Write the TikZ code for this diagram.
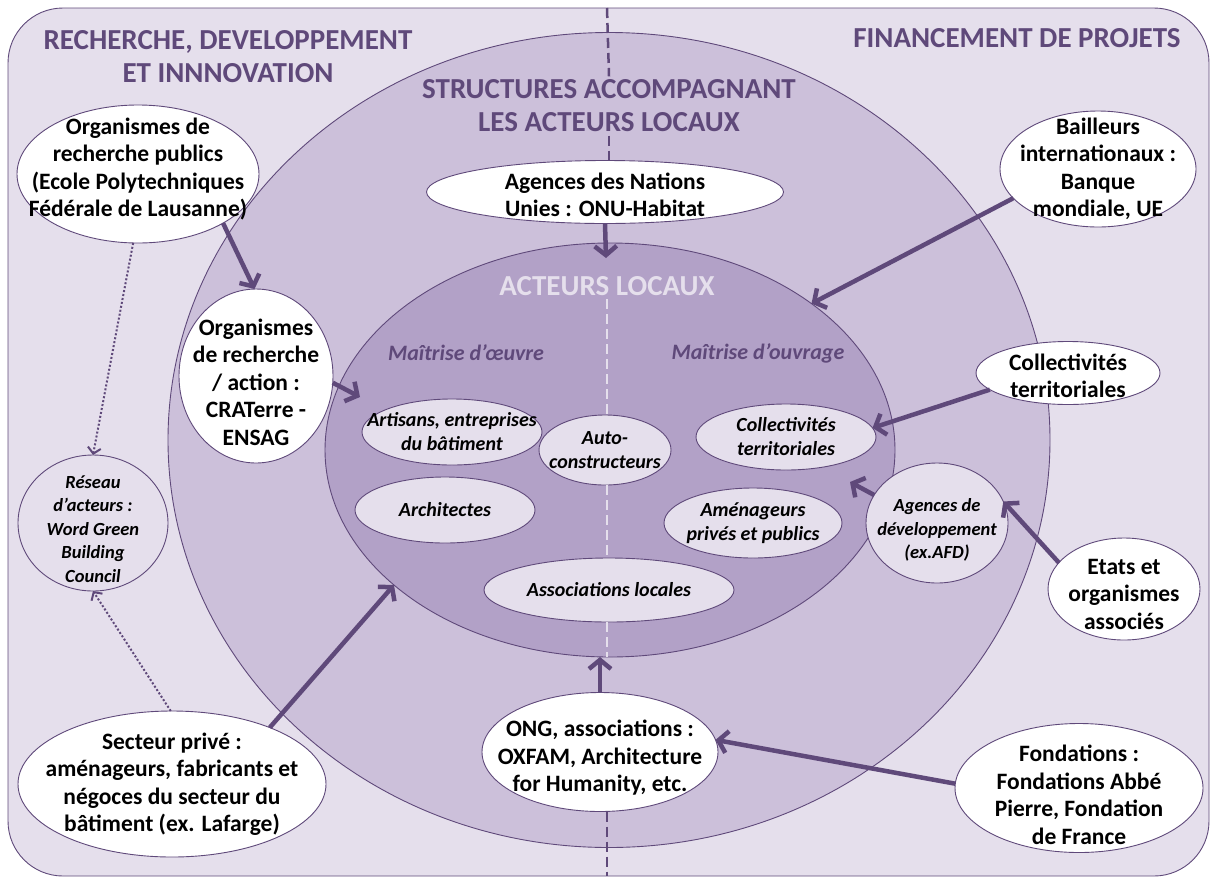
\documentclass[tikz,border=0pt]{standalone}
\usepackage{fontspec}
\setmainfont{Carlito}
\usepackage{tikz}
\usetikzlibrary{shapes.geometric}
\usetikzlibrary{arrows.meta}
\definecolor{pdark}{HTML}{5F497A}
\definecolor{plight}{HTML}{E5DFEC}
\definecolor{pmid}{HTML}{CCC0DA}
\definecolor{pdeep}{HTML}{B2A1C7}
\tikzstyle{bubble}=[ellipse, draw=pdark, line width=0.9pt, inner sep=0, outer sep=0]
\tikzstyle{partner}=[bubble, fill=white]
\tikzstyle{actor}=[bubble, fill=plight]
\tikzstyle{heading}=[align=center, text=pdark, font=\fontsize{29}{33}\selectfont\bfseries]
\tikzstyle{role}=[text=pdark, font=\fontsize{22}{26}\selectfont\bfseries\itshape]
\tikzstyle{bigtext}=[align=center, font=\fontsize{23.5}{27.5}\selectfont\bfseries]
\tikzstyle{smalltext}=[align=center, font=\fontsize{20}{24}\selectfont\bfseries\itshape]
\tikzstyle{netext}=[align=center, font=\fontsize{18.5}{23.5}\selectfont\bfseries\itshape]
\tikzstyle{link}=[draw=pdark, line width=4.5pt, -{Straight Barb[length=9pt, width=22pt]}]
\tikzstyle{weaklink}=[draw=pdark, line width=2pt, dash pattern=on 2pt off 2pt,
                      -{Straight Barb[length=6pt, width=13pt]}]
\tikzstyle{axis}=[draw=pdark, line width=2.5pt, dash pattern=on 10pt off 5pt]
\tikzstyle{subaxis}=[draw=plight, line width=2.5pt, dash pattern=on 10pt off 5pt]

\begin{document}
\begin{tikzpicture}[x=1pt, y=-1pt]
    \useasboundingbox (0,0) rectangle (1212,879);
    \draw[draw=pdark, fill=plight, line width=0.9pt, rounded corners=55pt] (8,8) rectangle (1209,876);
    \node[bubble, fill=pmid, minimum width=882, minimum height=815] (ring) at (609,440) {};
    \node[bubble, fill=pdeep, minimum width=570, minimum height=414] (locaux) at (610,450) {};
    \coordinate (axtop) at (607,8);
    \coordinate (axbot) at (607,876);

    % titles
    \node[heading] (rdi) at (228,57) {RECHERCHE, DEVELOPPEMENT\\ET INNNOVATION};
    \node[heading] (fin) at (1017,38) {FINANCEMENT DE PROJETS};
    \node[heading] (sal) at (609,106) {STRUCTURES ACCOMPAGNANT\\LES ACTEURS LOCAUX};
    \node[heading, text=plight] (al) at (607,286) {ACTEURS LOCAUX};
    \node[role] (moe) at (466,353) {Maîtrise d’œuvre};
    \node[role] (mou) at (758,353) {Maîtrise d’ouvrage};

    % acteurs locaux
    \node[actor, minimum width=180, minimum height=66,
          label={[smalltext]center:{Artisans, entreprises\\du bâtiment}}] (artisans) at (452,432) {};
    \node[actor, minimum width=132, minimum height=70,
          label={[smalltext]center:{Auto-\\constructeurs}}] (auto) at (605,450) {};
    \node[actor, minimum width=180, minimum height=66,
          label={[smalltext]center:{Collectivités\\territoriales}}] (collin) at (786,437) {};
    \node[actor, minimum width=180, minimum height=66,
          label={[smalltext]center:{Architectes}}] (archi) at (445,510) {};
    \node[actor, minimum width=178, minimum height=70,
          label={[smalltext]center:{Aménageurs\\privés et publics}}] (amen) at (753,523) {};
    \node[actor, minimum width=250, minimum height=64,
          label={[smalltext]center:{Associations locales}}] (assoc) at (609,590) {};

    % structures
    \node[partner, minimum width=242, minimum height=138,
          label={[bigtext, yshift=5pt]center:{Organismes de\\recherche publics\\(Ecole Polytechniques\\Fédérale de Lausanne)}}] (orgpub) at (138,174) {};
    \node[partner, minimum width=154, minimum height=174,
          label={[bigtext, yshift=-6pt]center:{Organismes\\de recherche\\/ action :\\CRATerre -\\ENSAG}}] (orgact) at (256,376) {};
    \node[actor, minimum width=150, minimum height=136,
          label={[netext, yshift=-6pt]center:{Réseau\\d’acteurs :\\Word Green\\Building\\Council}}] (reseau) at (93,523) {};
    \node[partner, minimum width=308, minimum height=146,
          label={[bigtext]center:{Secteur privé :\\aménageurs, fabricants et\\négoces du secteur du\\bâtiment (ex. Lafarge)}}] (secteur) at (172,784) {};
    \node[partner, minimum width=357, minimum height=63,
          label={[bigtext, yshift=-3pt]center:{Agences des Nations\\Unies : ONU-Habitat}}] (onu) at (605,192) {};
    \node[partner, minimum width=196, minimum height=116,
          label={[bigtext]center:{Bailleurs\\internationaux :\\Banque\\mondiale, UE}}] (bailleurs) at (1098,169) {};
    \node[partner, minimum width=184, minimum height=63,
          label={[bigtext, yshift=-3pt]center:{Collectivités\\territoriales}}] (collout) at (1068,373) {};
    \node[actor, minimum width=142, minimum height=120,
          label={[netext, yshift=-7pt]center:{Agences de\\développement\\(ex.AFD)}}] (agdev) at (937,523) {};
    \node[partner, minimum width=152, minimum height=102,
          label={[bigtext, yshift=-5pt]center:{Etats et\\organismes\\associés}}] (etats) at (1124,589) {};
    \node[partner, minimum width=236, minimum height=119,
          label={[bigtext, yshift=-6pt]center:{ONG, associations :\\OXFAM, Architecture\\for Humanity, etc.}}] (ong) at (600,752) {};
    \node[partner, minimum width=248, minimum height=129,
          label={[bigtext, yshift=-7pt]center:{Fondations :\\Fondations Abbé\\Pierre, Fondation\\de France}}] (fond) at (1079,788) {};

    % axes
    \draw[axis] (axtop) -- (sal.north);
    \draw[axis] (sal.south) -- (sal.south |- onu.north);
    \draw[axis] (ong.south -| axbot) -- (axbot);
    \draw[subaxis] (al.south) -- (al.south |- auto.north);
    \draw[subaxis] (auto.south -| al.south) -- (al.south |- assoc.north);
    \draw[subaxis] (assoc.south -| al.south) -- (al.south |- locaux.south);

    % liens
    \coordinate (tiponu) at (606,258);
    \coordinate (tipact) at (360,397);
    \coordinate (tipdev) at (850,482);
    \draw[link] (onu.south) -- (tiponu);
    \draw[link] (orgpub.-30) -- (orgact.91);
    \draw[link] (orgact.-5) -- (tipact);
    \draw[link] (secteur.30) -- (locaux.212);
    \draw[link] (bailleurs.199) -- (locaux.36);
    \draw[link] (collout.192) -- (collin.6);
    \draw[link] (agdev.156) -- (tipdev);
    \draw[link] (etats.158) -- (agdev.18);
    \draw[link] (fond.178) -- (ong.6);
    \draw[link] (ong.north) -- (ong.north |- locaux.south);
    \draw[weaklink] (orgpub.-94) -- (reseau.north);
    \draw[weaklink] (secteur.91) -- (reseau.south);
\end{tikzpicture}
\end{document}
